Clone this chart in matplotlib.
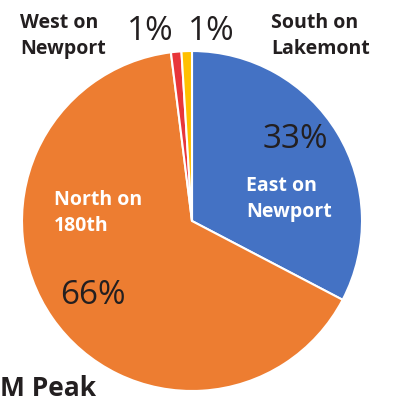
import numpy as np
import matplotlib
matplotlib.use("Agg")
import matplotlib.pyplot as plt

# Share of traffic by approach
approaches = ["East on\nNewport", "North on\n180th", "West on\nNewport", "South on\nLakemont"]
shares = [33, 66, 1, 1]
pct_labels = ["33%", "66%", "1%", "1%"]
colors = ["#4472C4", "#ED7D31", "#E8363A", "#FFC000"]

W, H = 393, 407
fig = plt.figure(figsize=(W / 100, H / 100), dpi=100)
ax = fig.add_axes([0, 0, 1, 1])

cx, cy, r = 192, H - 221, 170
ax.pie(shares, colors=colors, startangle=90, counterclock=False,
       center=(cx, cy), radius=r, frame=True,
       wedgeprops=dict(edgecolor="white", linewidth=1.5))
ax.set_xlim(0, W)
ax.set_ylim(0, H)
ax.set_aspect("equal")
ax.axis("off")

dark = "#231F20"
lab = dict(fontfamily="Open Sans", fontweight="bold", fontsize=14,
           linespacing=1.4, ha="left", va="center", multialignment="left")
pct = dict(fontfamily="Open Sans", fontweight="normal", fontsize=24,
           color=dark, ha="center", va="center")

def py(y):
    return H - y

# category labels
ax.text(20, py(36), approaches[2], color=dark, **lab)
ax.text(271, py(36), approaches[3], color=dark, **lab)
ax.text(246, py(199), approaches[0], color="white", **lab)
ax.text(54, py(213), approaches[1], color="white", **lab)

# percentage labels
ax.text(295, py(139), pct_labels[0], **pct)
ax.text(93, py(296), pct_labels[1], **pct)
ax.text(150, py(32), pct_labels[2], **pct)
ax.text(211, py(32), pct_labels[3], **pct)

ax.text(0, py(389), "M Peak", ha="left", va="center", color=dark,
        fontfamily="Open Sans", fontweight="bold", fontsize=19)

fig.savefig("out.png", dpi=100)
